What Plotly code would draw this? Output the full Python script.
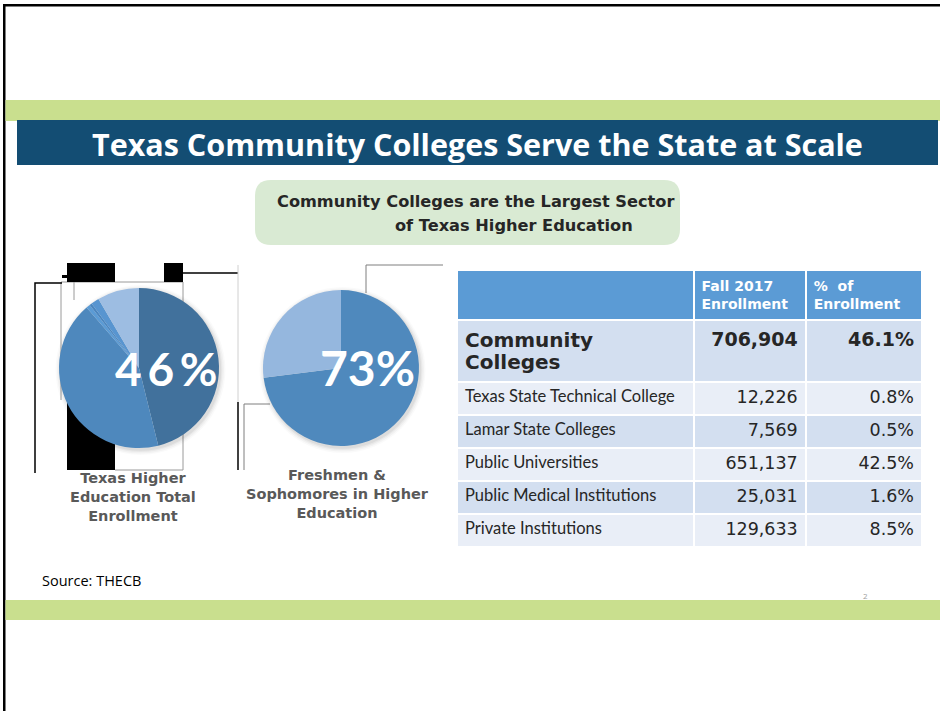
import plotly.graph_objects as go

# ---------------- data ----------------
sectors = ["Community Colleges", "Texas State Technical College", "Lamar State Colleges",
           "Public Universities", "Public Medical Institutions", "Private Institutions"]
enrollment = [706904, 12226, 7569, 651137, 25031, 129633]
pct_enrollment = [46.1, 0.8, 0.5, 42.5, 1.6, 8.5]

pie1_order = [0, 3, 1, 2, 4, 5]           # order of slices in the first pie
pie1_colors = ["#41719c", "#4e88bd", "#5b9bd5", "#4a86c0", "#5895d0", "#9dbde2"]

fs_labels = ["Community Colleges", "Other Institutions"]
fs_values = [73, 27]
fs_colors = ["#4f89bd", "#95b7de"]

header_labels = ["", "Fall 2017<br>Enrollment", "%  of<br>Enrollment"]

# ---------------- helpers ----------------
W, H = 940, 711
def X(p): return p / W
def Y(p): return 1 - p / H

fig = go.Figure()

shapes = []
def rect(x0, y0, x1, y1, color, layer="below"):
    shapes.append(dict(type="rect", xref="paper", yref="paper", x0=X(x0), x1=X(x1),
                       y0=Y(y1), y1=Y(y0), fillcolor=color, line=dict(width=0), layer=layer))
def line(pts, color, width=1):
    path = "M " + " L ".join(f"{X(a)},{Y(b)}" for a, b in pts)
    shapes.append(dict(type="path", xref="paper", yref="paper", path=path,
                       line=dict(color=color, width=width), layer="below"))
def shadow(cx, cy, r):
    for extra, a in [(5, 0.02), (3.5, 0.03), (2, 0.04), (0.8, 0.05)]:
        shapes.append(dict(type="circle", xref="paper", yref="paper",
                           x0=X(cx - r - extra + 1.5), x1=X(cx + r + extra + 1.5),
                           y0=Y(cy + r + extra + 2), y1=Y(cy - r - extra + 2),
                           fillcolor=f"rgba(0,0,0,{a})", line=dict(width=0), layer="below"))

# Pies
pie1_box = (59, 288, 219, 448)
pie2_box = (263, 290, 419, 446)
fig.add_trace(go.Pie(
    labels=[sectors[i] for i in pie1_order],
    values=[enrollment[i] for i in pie1_order],
    marker=dict(colors=pie1_colors, line=dict(width=0)),
    sort=False, direction="clockwise", rotation=0,
    textinfo="none", hoverinfo="label+percent", showlegend=False,
    domain=dict(x=[X(pie1_box[0]), X(pie1_box[2])], y=[Y(pie1_box[3]), Y(pie1_box[1])]),
))
fig.add_trace(go.Pie(
    labels=fs_labels, values=fs_values,
    marker=dict(colors=fs_colors, line=dict(width=0)),
    sort=False, direction="clockwise", rotation=0,
    textinfo="none", hoverinfo="label+percent", showlegend=False,
    domain=dict(x=[X(pie2_box[0]), X(pie2_box[2])], y=[Y(pie2_box[3]), Y(pie2_box[1])]),
))

# Table
row_fill = ["#d3dff0", "#e9eef7", "#d3dff0", "#e9eef7", "#d3dff0", "#e9eef7"]
big = '<span style="font-family:DejaVu Sans;font-size:%dpx"><b>%s</b></span>'
col1 = [big % (20, "Community<br>Colleges")] + sectors[1:]
col2 = [big % (19, f"{enrollment[0]:,}") + "<br>"] + [f"{v:,}" for v in enrollment[1:]]
col3 = [big % (19, f"{pct_enrollment[0]}%") + "<br>"] + [f"{v}%" for v in pct_enrollment[1:]]
fig.add_trace(go.Table(
    domain=dict(x=[X(457), X(922)], y=[Y(600), Y(270)]),
    columnwidth=[236, 112, 116],
    header=dict(
        values=["<b>%s</b>" % h if h else "" for h in header_labels],
        fill_color="#5b9bd5",
        line=dict(color="white", width=2),
        align="left",
        font=dict(family="DejaVu Sans", size=14, color="white"),
        height=48,
    ),
    cells=dict(
        values=[col1, col2, col3],
        fill_color=[row_fill, row_fill, row_fill],
        line=dict(color="white", width=2),
        align=["left", "right", "right"],
        font=dict(family=["Lato", "DejaVu Sans", "DejaVu Sans"], color="#262626",
                  size=[16.5, 17.5, 17.5]),
        height=33,
    ),
))

# slide frame
rect(3, 4, 940, 6.5, "black")
rect(3, 4, 5.5, 711, "black")
# bands
rect(5.5, 100, 940, 121, "#c9df8e")
rect(17, 120, 938, 165, "#134d73")
rect(5.5, 600, 940, 620, "#c9df8e")
# rounded callout box
x0, y0, x1, y1, r = 255, 180, 680, 245, 16
p = (f"M {X(x0+r)},{Y(y0)} L {X(x1-r)},{Y(y0)} Q {X(x1)},{Y(y0)} {X(x1)},{Y(y0+r)} "
     f"L {X(x1)},{Y(y1-r)} Q {X(x1)},{Y(y1)} {X(x1-r)},{Y(y1)} L {X(x0+r)},{Y(y1)} "
     f"Q {X(x0)},{Y(y1)} {X(x0)},{Y(y1-r)} L {X(x0)},{Y(y0+r)} Q {X(x0)},{Y(y0)} {X(x0+r)},{Y(y0)} Z")
shapes.append(dict(type="path", xref="paper", yref="paper", path=p,
                   fillcolor="#d9ead3", line=dict(width=0), layer="below"))

# leftover artefacts around the first pie
line([(61, 282), (183, 282), (183, 470), (115, 470)], "#9a9a9a", 1)
line([(61, 282), (61, 400)], "#9a9a9a", 1)
line([(74, 263), (74, 300)], "#9a9a9a", 1)
rect(67, 263, 115, 282, "black")
rect(62, 275, 67, 278, "black")
rect(164, 263, 183, 282, "black")
rect(67, 385, 115, 470, "black")
line([(62, 283), (35, 283), (35, 473)], "black", 1.5)
line([(183, 273), (238, 273)], "black", 1.5)
line([(238, 265), (238, 402)], "#d0d0d0", 1)
line([(238, 402), (238, 470)], "black", 1.5)
# connectors around the second pie
line([(366, 293), (366, 265), (443, 265)], "#7f7f7f", 1)
line([(270, 404), (244, 404), (244, 470)], "#7f7f7f", 1)

# soft pie shadows
shadow(139, 368, 80)
shadow(341, 368, 78)

ann = []
def text(x, y, s, size, color, family="Lato", xanchor="center", yanchor="middle", align="center"):
    ann.append(dict(xref="paper", yref="paper", x=X(x), y=Y(y), text=s, showarrow=False,
                    xanchor=xanchor, yanchor=yanchor, align=align,
                    font=dict(family=family, size=size, color=color)))

text(477, 144, "<b>Texas Community Colleges Serve the State at Scale</b>", 30.5, "white", family="Open Sans")
text(475, 201, "<b>Community Colleges are the Largest Sector</b>", 16.2, "#262626", family="DejaVu Sans")
text(514, 226, "<b>of Texas Higher Education</b>", 16.2, "#262626", family="DejaVu Sans")
text(166, 368, "<b>4\u20096\u2009%</b>", 46, "white")
text(367, 367, "<b>73%</b>", 48, "white")
text(133, 497, "<b>Texas Higher<br>Education Total<br>Enrollment</b>", 14.5, "#595959", family="DejaVu Sans")
text(337, 494, "<b>Freshmen &<br>Sophomores in Higher<br>Education</b>", 14.5, "#595959", family="DejaVu Sans")
text(40, 580, "Source: THECB", 14.5, "black", family="Open Sans", xanchor="left")
text(865, 595, "2", 8, "#a0a0a0", family="Open Sans")

fig.update_layout(
    width=W, height=H, margin=dict(l=0, r=0, t=0, b=0),
    paper_bgcolor="white", plot_bgcolor="white",
    shapes=shapes, annotations=ann, showlegend=False,
)
fig.write_html("out.html", config={"displayModeBar": False},
               post_script="document.body.style.margin='0px';")
